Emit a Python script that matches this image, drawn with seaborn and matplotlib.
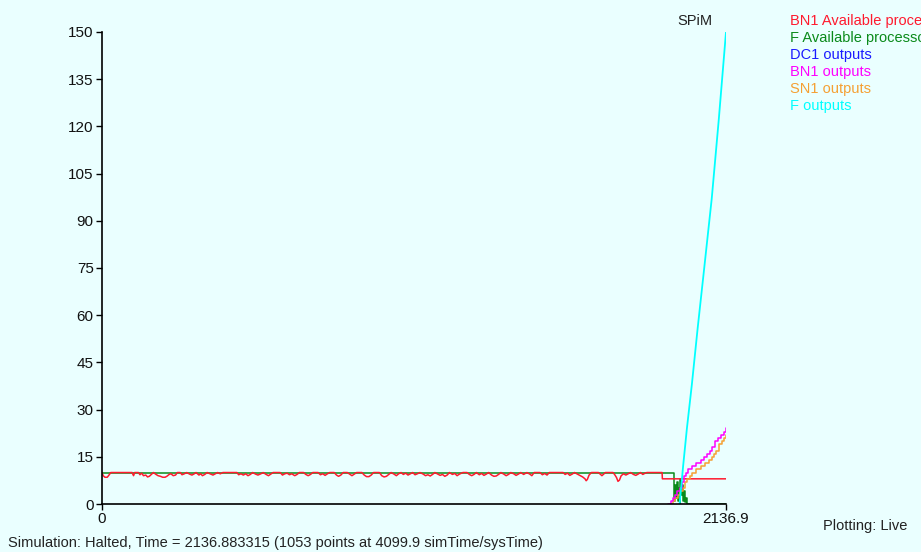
import pandas as pd
import matplotlib
matplotlib.use("Agg")
import matplotlib.pyplot as plt
import seaborn as sns

# --- data ---
red_time = [0, 4, 10, 18, 24, 30, 103, 108, 112, 125, 130, 136, 142, 150, 156, 162, 170, 176,
            185, 192, 200, 208, 216, 222, 230, 236, 244, 252, 258, 268, 274, 282, 290, 300, 308,
            316, 322, 332, 338, 344, 352, 360, 372, 380, 388, 396, 405, 414, 462, 468, 476, 484,
            492, 500, 508, 516, 526, 534, 544, 552, 562, 570, 578, 586, 610, 618, 626, 634, 642,
            650, 660, 668, 676, 690, 698, 706, 714, 722, 740, 748, 756, 764, 772, 780, 795, 803,
            810, 818, 826, 840, 848, 856, 864, 872, 890, 898, 906, 914, 922, 930, 950, 958, 966,
            974, 982, 990, 1000, 1008, 1016, 1024, 1032, 1040, 1048, 1056, 1064, 1072, 1080, 1089,
            1100, 1108, 1116, 1124, 1132, 1140, 1150, 1158, 1166, 1174, 1182, 1190, 1200, 1208,
            1216, 1224, 1236, 1250, 1258, 1266, 1274, 1282, 1292, 1300, 1308, 1316, 1324, 1334,
            1342, 1350, 1358, 1366, 1376, 1384, 1392, 1400, 1410, 1418, 1426, 1434, 1444, 1455,
            1465, 1472, 1480, 1500, 1508, 1516, 1524, 1532, 1579, 1586, 1594, 1602, 1610, 1618,
            1630, 1638, 1646, 1654, 1658, 1662, 1668, 1676, 1700, 1706, 1712, 1718, 1724, 1750,
            1756, 1762, 1767, 1772, 1778, 1786, 1794, 1802, 1810, 1820, 1828, 1836, 1844, 1852,
            1858, 1866, 1918, 1919, 2136.9]
red_value = [10, 9, 8.5, 8.5, 9.2, 10, 10, 9, 10, 10, 9.3, 9.8, 9, 9.2, 8.6, 8.8, 9.5, 10,
             9.4, 9, 8.8, 8.5, 8.5, 8.8, 9.4, 9.6, 9, 9.2, 10, 10, 9.3, 9.6, 10, 9.5, 9.2,
             9.6, 10, 9.2, 9.6, 9.0, 9.4, 10, 9.5, 9.2, 9.6, 10, 9.6, 10, 10, 9.3, 9.6, 9.2,
             9.6, 9.0, 9.4, 10, 9.5, 9.2, 9.6, 10, 9.4, 9.0, 9.5, 10, 10, 9.2, 9.6, 9.8, 9.3,
             9.6, 9.0, 9.4, 10, 10, 9.4, 9.0, 9.4, 10, 10, 9.3, 9.6, 9.1, 9.6, 10, 10, 9.2,
             8.8, 9.2, 10, 10, 9.5, 9.0, 9.5, 10, 10, 9.2, 8.7, 8.7, 9.2, 10, 10, 9.0, 8.6,
             8.8, 9.4, 10, 9.5, 9.0, 9.6, 10, 9.4, 9.8, 9.2, 9.6, 10, 9.3, 9.6, 10,
             9.5, 9.0, 9.3, 8.9, 9.4, 10, 9.5, 9.1, 9.4, 8.8, 9.2, 10, 9.4, 9.7,
             9.0, 9.5, 10, 10, 9.4, 9.0, 9.4, 10, 9.3, 9.7, 9.1, 9.5, 10, 9.2,
             8.8, 8.9, 9.4, 10, 9.5, 9.0, 9.4, 10, 9.6, 9.1, 9.5, 10, 9.4, 10,
             9.5, 9.0, 10, 10, 9.3, 9.7, 9.2, 10, 10, 9.4, 9.8, 9.1, 9.5, 10,
             9.4, 9.0, 8.6, 8.0, 7.4, 7.8, 9.2, 10, 10, 9.5, 9.0, 9.5, 10, 10,
             9.3, 8.4, 7.2, 7.6, 9.0, 9.6, 9.2, 9.6, 10, 9.4, 9.1, 9.5, 10, 9.4,
             9.7, 10, 10, 8, 8]

green_time = [0, 1958, 1959, 1963, 1966, 1969, 1972, 1975, 1978, 1981, 1984, 1987, 1990,
              1993, 1996, 1999, 2002, 2136.9]
green_value = [10, 10, 1, 6, 2, 7, 1, 5, 0, 8, 3, 6, 1, 4, 0.5, 2, 0, 0]

bn1_out_time = [1938, 1948, 1955, 1962, 1970, 1978, 1985, 1992, 2000, 2008, 2020, 2035, 2050,
                2062, 2072, 2082, 2090, 2098, 2108, 2120, 2130, 2136.9]
bn1_out_value = [0, 1, 2, 3, 4, 5, 7, 9, 10, 11, 12, 13, 14, 15, 16, 17, 18, 20, 21, 22, 23, 24]

sn1_out_time = [1945, 1955, 1963, 1972, 1980, 1988, 1995, 2003, 2012, 2022, 2035, 2050, 2065,
                2078, 2088, 2095, 2102, 2112, 2122, 2130, 2136.9]
sn1_out_value = [0, 1, 2, 3, 4, 5, 7, 8, 9, 10, 11, 12, 13, 14, 15, 16, 17, 19, 20, 21, 22]

f_out_time = [1978, 1990, 2003, 2020, 2040, 2060, 2088, 2112, 2136.9]
f_out_value = [0, 12, 24, 38, 56, 73, 97, 122, 150]

series_names = ["BN1 Available processors", "F Available processors", "DC1 outputs",
                "BN1 outputs", "SN1 outputs", "F outputs"]
series_colors = ["#ff1a2e", "#0a8a1a", "#1a1aff", "#ff00ff", "#f5a033", "#00ffff"]

y_ticks = [0, 15, 30, 45, 60, 75, 90, 105, 120, 135, 150]
x_ticks = [0, 2136.9]

bg = "#eaffff"
sns.set_style("white")
plt.rcParams['font.family'] = ['Liberation Sans', 'DejaVu Sans']

fig = plt.figure(figsize=(9.21, 5.52), dpi=100, facecolor=bg)
ax = fig.add_axes([102 / 921, 1 - 504 / 552, 624 / 921, 472 / 552])
ax.set_facecolor(bg)

# green first, red drawn over it
sns.lineplot(x=green_time, y=green_value, ax=ax, color="#0a8a1a", lw=1.1,
             estimator=None, sort=False, drawstyle="steps-post")
sns.lineplot(x=red_time, y=red_value, ax=ax, color="#ff1a2e", lw=1.1,
             estimator=None, sort=False)
sns.lineplot(x=sn1_out_time, y=sn1_out_value, ax=ax, color="#f5a033", lw=1.1,
             estimator=None, sort=False, drawstyle="steps-post")
sns.lineplot(x=bn1_out_time, y=bn1_out_value, ax=ax, color="#ff00ff", lw=1.1,
             estimator=None, sort=False, drawstyle="steps-post")
sns.lineplot(x=f_out_time, y=f_out_value, ax=ax, color="#00ffff", lw=1.3,
             estimator=None, sort=False)

ax.set_xlim(0, 2136.9)
ax.set_ylim(0, 150)
ax.set_yticks(y_ticks)
ax.set_yticklabels([str(v) for v in y_ticks])
ax.set_xticks(x_ticks)
ax.set_xticklabels(["0", "2136.9"])
ax.tick_params(axis="both", direction="out", length=4, width=1, color="black",
               labelsize=11, labelcolor="#111111", pad=2, left=True, bottom=True)
for side in ["top", "right"]:
    ax.spines[side].set_visible(False)
for side in ["left", "bottom"]:
    ax.spines[side].set_color("black")
    ax.spines[side].set_linewidth(1.2)
ax.set_xlabel("")
ax.set_ylabel("")

# title and legend-like labels placed as in the original window
fig.text(695 / 921, 1 - 21 / 552, "SPiM", ha="center", va="center", fontsize=10.5, color="#222222")
for i, (name, col) in enumerate(zip(series_names, series_colors)):
    fig.text(790 / 921, 1 - (21 + 17 * i) / 552, name, ha="left", va="center",
             fontsize=10.5, color=col)

fig.text(8 / 921, 1 - 543 / 552,
         "Simulation: Halted, Time = 2136.883315 (1053 points at 4099.9 simTime/sysTime)",
         ha="left", va="center", fontsize=10.5, color="#222222")
fig.text(907 / 921, 1 - 526 / 552, "Plotting: Live", ha="right", va="center",
         fontsize=10.5, color="#222222")

fig.savefig("out.png", dpi=100, facecolor=bg)
